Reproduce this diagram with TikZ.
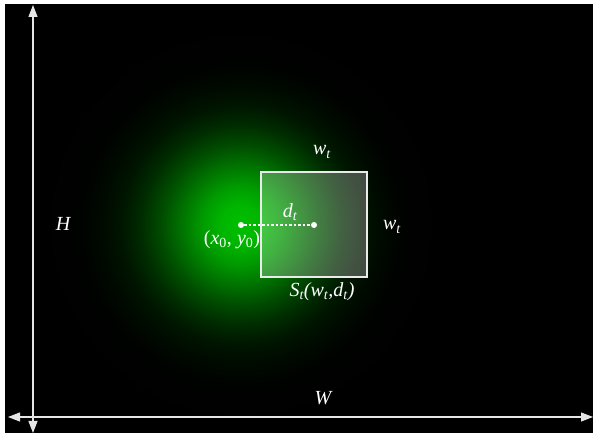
\documentclass[tikz,border=0pt]{standalone}
\usepackage{fontspec}
\setmainfont{Liberation Serif}
\usepackage{tikz}
\usetikzlibrary{arrows.meta,positioning,calc}
\definecolor{axisc}{HTML}{E6E6E6}
\colorlet{glowc}{green!75!black}
\pgfdeclareradialshading{glow}{\pgfpoint{0bp}{0bp}}{%
  color(0bp)=(glowc);
  color(2.5bp)=(glowc!95!black);
  color(5bp)=(glowc!80!black);
  color(7.5bp)=(glowc!60!black);
  color(10bp)=(glowc!40!black);
  color(12.5bp)=(glowc!23!black);
  color(15bp)=(glowc!11!black);
  color(17.5bp)=(glowc!5!black);
  color(20bp)=(glowc!1!black);
  color(25bp)=(black);
  color(50bp)=(black)}
\tikzset{
  >={Triangle[length=12pt,width=9pt]},
  axis/.style={<->,line width=1.1pt,draw=axisc},
  lab/.style={text=white,font=\fontsize{20}{22}\selectfont\itshape,inner sep=1pt},
  win/.style={draw=white!92!black,line width=1.6pt,fill=white,fill opacity=0.26,
    minimum width=106pt,minimum height=105pt,inner sep=0pt},
  dot/.style={circle,fill=white,minimum size=6pt,inner sep=0pt},
  link/.style={draw=white,dashed,line width=1.3pt,dash pattern=on 2.5pt off 2pt},
}

\begin{document}
\begin{tikzpicture}[x=1pt,y=1pt]
  \useasboundingbox (0,0) rectangle (593,435);
  \fill[white] (0,0) rectangle (593,435);
  \fill[black] (5,2) rectangle (593,431);
  % green spot around the centre point
  \begin{scope}
    \clip (5,2) rectangle (593,431);
    \shade[shading=glow] (241,210) circle (200);
  \end{scope}
  \node[win] (box) at (314,210.5) {};
  \node[dot] (c0) at (241,210) {};
  \node[dot] (ct) at (314,210) {};
  \draw[link] (c0) -- (ct);
  % axes
  \coordinate (ybot) at (33,2);
  \coordinate (ytop) at (33,430);
  \coordinate (xl) at (8,18);
  \coordinate (xr) at (593,18);
  \draw[axis] (ybot) -- (ytop);
  \draw[axis] (xl) -- (xr);
  \node[lab] (hlab) at (63,211) {H};
  \node[lab] (wlab) at (323,37) {W};
  \node[lab] (dlab) at (290,223) {d\textsubscript{t}};
  \node[lab] (plab) at (232,195) {\upshape(\textit{x}\textsubscript{0}, \textit{y}\textsubscript{0})};
  \node[lab] (wtop) at (322,283) {w\textsubscript{t}};
  \node[lab] (wside) at (392,208) {w\textsubscript{t}};
  \node[lab] (slab) at (322,143) {S\textsubscript{t}(w\textsubscript{t},d\textsubscript{t})};
\end{tikzpicture}
\end{document}
